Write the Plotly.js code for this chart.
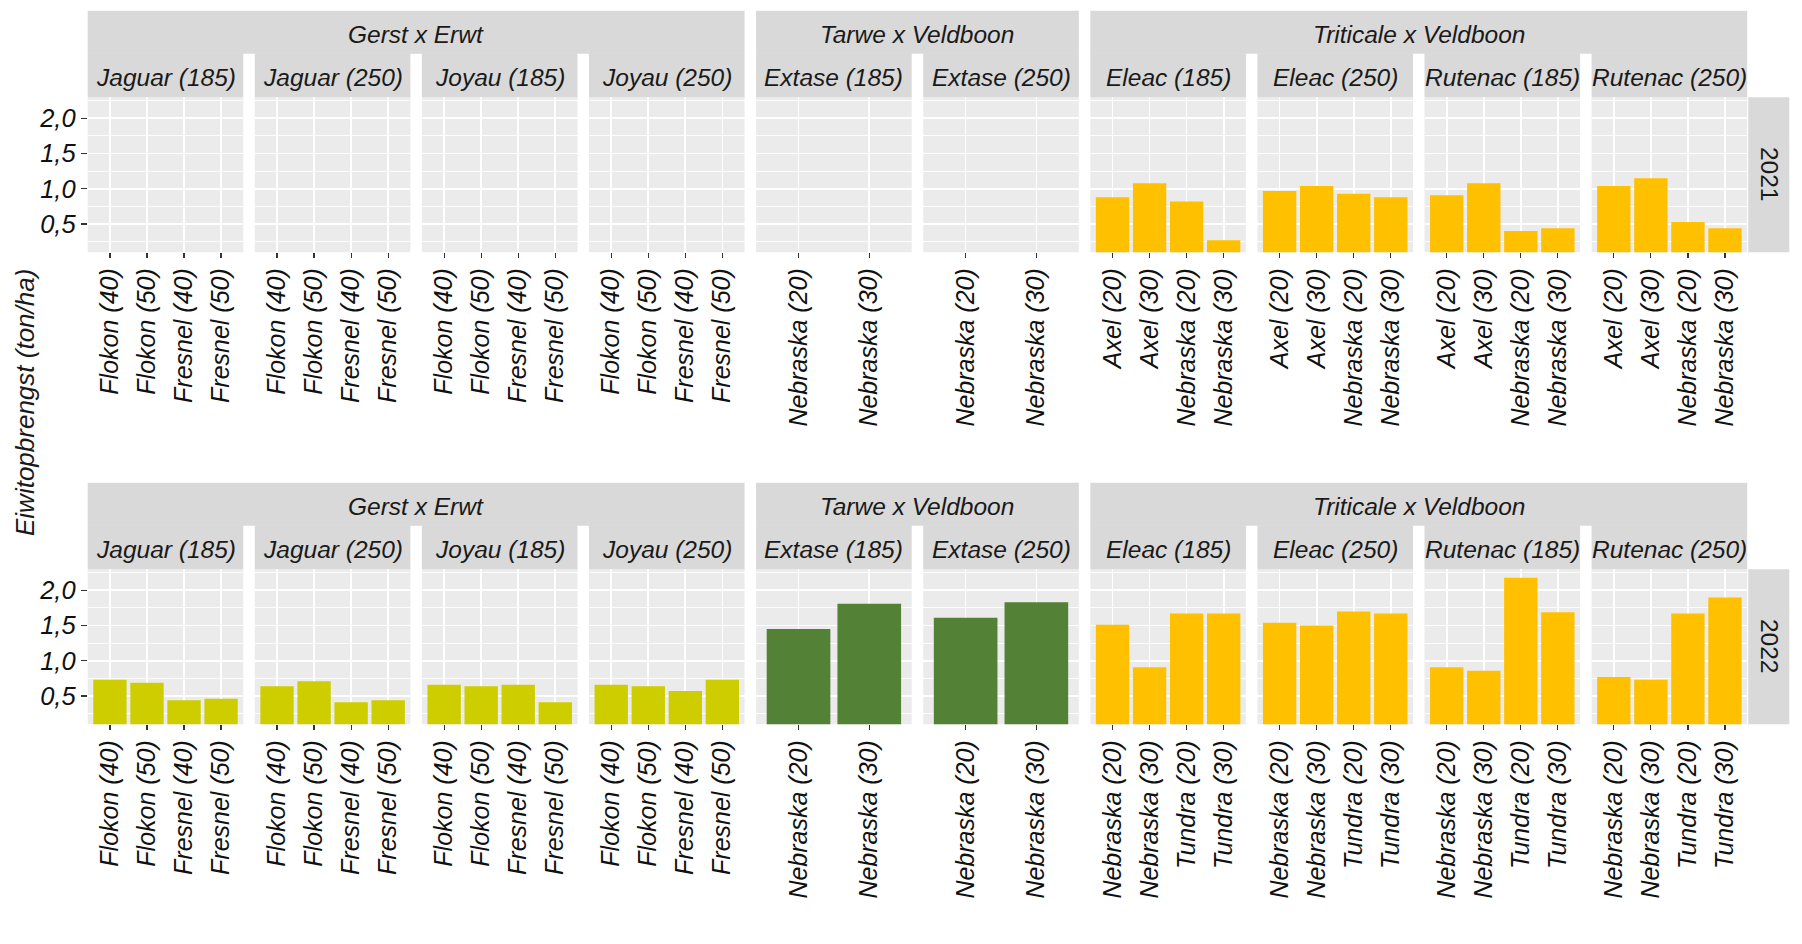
<!DOCTYPE html>
<html>
<head>
<meta charset="utf-8">
<script src="https://cdn.plot.ly/plotly-3.0.1.min.js"></script>
<style>html,body{margin:0;padding:0;background:#fff;}#chart{width:1802px;height:944px;}</style>
</head>
<body>
<div id="chart"></div>
<script>
// ---------------- data ----------------
const groups = ['Gerst x Erwt', 'Tarwe x Veldboon', 'Triticale x Veldboon'];
const groupColors = ['#CDCD00', '#538135', '#FFC000'];
const panels = ['Jaguar (185)', 'Jaguar (250)', 'Joyau (185)', 'Joyau (250)',
                'Extase (185)', 'Extase (250)',
                'Eleac (185)', 'Eleac (250)', 'Rutenac (185)', 'Rutenac (250)'];
const panelGroup = [0, 0, 0, 0, 1, 1, 2, 2, 2, 2];
const years = ['2021', '2022'];

const catsGerst = ['Flokon (40)', 'Flokon (50)', 'Fresnel (40)', 'Fresnel (50)'];
const catsTarwe = ['Nebraska (20)', 'Nebraska (30)'];
const catsTriticale2021 = ['Axel (20)', 'Axel (30)', 'Nebraska (20)', 'Nebraska (30)'];
const catsTriticale2022 = ['Nebraska (20)', 'Nebraska (30)', 'Tundra (20)', 'Tundra (30)'];

// values per panel (ton/ha); null = no measurement
const values2021 = [
  [null, null, null, null],   // Jaguar (185)
  [null, null, null, null],   // Jaguar (250)
  [null, null, null, null],   // Joyau (185)
  [null, null, null, null],   // Joyau (250)
  [null, null],               // Extase (185)
  [null, null],               // Extase (250)
  [0.88, 1.08, 0.82, 0.27],   // Eleac (185)
  [0.97, 1.04, 0.93, 0.88],   // Eleac (250)
  [0.91, 1.08, 0.40, 0.44],   // Rutenac (185)
  [1.04, 1.15, 0.53, 0.44]    // Rutenac (250)
];
const values2022 = [
  [0.73, 0.69, 0.44, 0.46],   // Jaguar (185)
  [0.64, 0.71, 0.41, 0.44],   // Jaguar (250)
  [0.66, 0.64, 0.66, 0.41],   // Joyau (185)
  [0.66, 0.64, 0.57, 0.73],   // Joyau (250)
  [1.45, 1.81],               // Extase (185)
  [1.61, 1.83],               // Extase (250)
  [1.51, 0.91, 1.67, 1.67],   // Eleac (185)
  [1.54, 1.50, 1.70, 1.67],   // Eleac (250)
  [0.91, 0.86, 2.18, 1.69],   // Rutenac (185)
  [0.77, 0.73, 1.67, 1.90]    // Rutenac (250)
];
const yTitle = 'Eiwitopbrengst (ton/ha)';

// ---------------- layout geometry (px) ----------------
const W = 1802, H = 944;
const panelLeft0 = 87.7, panelStep = 167.1, panelW = 155.6;
const rowTop = [97.2, 569.2], panelH = 155.0;
const strip1Top = [10.7, 482.7], strip2Top = [53.3, 525.3];
const yearStripX = [1748.3, 1789.3];
const FONT = 'Liberation Sans, Arial, sans-serif';

const px = x => x / W;
const py = y => 1 - y / H;

function catsFor(year, p) {
  const g = panelGroup[p];
  if (g === 0) return catsGerst;
  if (g === 1) return catsTarwe;
  return year === 0 ? catsTriticale2021 : catsTriticale2022;
}

const data = [];
const layout = {
  width: W, height: H,
  margin: {l: 0, r: 0, t: 0, b: 0},
  paper_bgcolor: '#FFFFFF',
  plot_bgcolor: '#EBEBEB',
  separators: ',.',
  showlegend: false,
  bargap: 0.1,
  font: {family: FONT, color: '#1A1A1A'},
  shapes: [],
  annotations: []
};

let idx = 0;
for (let r = 0; r < 2; r++) {
  const vals = r === 0 ? values2021 : values2022;
  for (let p = 0; p < panels.length; p++) {
    idx++;
    const xa = 'x' + (idx === 1 ? '' : idx);
    const ya = 'y' + (idx === 1 ? '' : idx);
    const cats = catsFor(r, p);
    const left = panelLeft0 + p * panelStep;
    data.push({
      type: 'bar',
      x: cats,
      y: vals[p],
      xaxis: xa, yaxis: ya,
      marker: {color: groupColors[panelGroup[p]], line: {width: 0}},
      hoverinfo: 'x+y'
    });
    layout['xaxis' + (idx === 1 ? '' : idx)] = {
      domain: [px(left), px(left + panelW)],
      anchor: ya,
      type: 'category',
      categoryorder: 'array',
      categoryarray: cats,
      range: [-0.6, cats.length - 0.4],
      showgrid: true, gridcolor: '#FFFFFF', gridwidth: 1.7,
      zeroline: false, showline: false,
      ticks: 'outside', ticklen: 5, tickwidth: 1.2, tickcolor: '#333333',
      tickangle: -90,
      tickfont: {family: FONT, size: 25, color: '#111111', style: 'italic'},
      fixedrange: true
    };
    layout['yaxis' + (idx === 1 ? '' : idx)] = {
      domain: [py(rowTop[r] + panelH), py(rowTop[r])],
      anchor: xa,
      range: [0.1, 2.3],
      tick0: 0, dtick: 0.5,
      tickformat: '.1f',
      showgrid: true, gridcolor: '#FFFFFF', gridwidth: 1.7,
      minor: {dtick: 0.25, tick0: 0, showgrid: true, gridcolor: '#FFFFFF', gridwidth: 0.9, ticks: ''},
      zeroline: false, showline: false,
      showticklabels: p === 0,
      ticks: p === 0 ? 'outside' : '',
      ticklen: 6, tickwidth: 1.2, tickcolor: '#333333',
      tickfont: {family: FONT, size: 25.5, color: '#111111', style: 'italic'},
      fixedrange: true
    };

    // second-level strip (panel label)
    layout.shapes.push({
      type: 'rect', xref: 'paper', yref: 'paper', layer: 'below',
      x0: px(left), x1: px(left + panelW),
      y0: py(rowTop[r]), y1: py(strip2Top[r]),
      fillcolor: '#D9D9D9', line: {width: 0}
    });
    layout.annotations.push({
      xref: 'paper', yref: 'paper', showarrow: false,
      x: px(left + panelW / 2), y: py((strip2Top[r] + rowTop[r]) / 2 + 2.5),
      xanchor: 'center', yanchor: 'middle',
      text: panels[p],
      font: {family: FONT, size: 24.5, color: '#1A1A1A', style: 'italic'}
    });
  }

  // first-level strips (groups)
  for (let g = 0; g < groups.length; g++) {
    const ps = panelGroup.map((v, i) => v === g ? i : -1).filter(i => i >= 0);
    const gl = panelLeft0 + ps[0] * panelStep;
    const gr = panelLeft0 + ps[ps.length - 1] * panelStep + panelW;
    layout.shapes.push({
      type: 'rect', xref: 'paper', yref: 'paper', layer: 'below',
      x0: px(gl), x1: px(gr),
      y0: py(strip2Top[r] + 0.5), y1: py(strip1Top[r]),
      fillcolor: '#D9D9D9', line: {width: 0}
    });
    layout.annotations.push({
      xref: 'paper', yref: 'paper', showarrow: false,
      x: px((gl + gr) / 2), y: py((strip1Top[r] + strip2Top[r]) / 2 + 2.5),
      xanchor: 'center', yanchor: 'middle',
      text: groups[g],
      font: {family: FONT, size: 24.5, color: '#1A1A1A', style: 'italic'}
    });
  }

  // year strip on the right
  layout.shapes.push({
    type: 'rect', xref: 'paper', yref: 'paper', layer: 'below',
    x0: px(yearStripX[0]), x1: px(yearStripX[1]),
    y0: py(rowTop[r] + panelH), y1: py(rowTop[r]),
    fillcolor: '#D9D9D9', line: {width: 0}
  });
  layout.annotations.push({
    xref: 'paper', yref: 'paper', showarrow: false,
    x: px((yearStripX[0] + yearStripX[1]) / 2), y: py(rowTop[r] + panelH / 2),
    xanchor: 'center', yanchor: 'middle',
    textangle: 90,
    text: years[r],
    font: {family: FONT, size: 24.5, color: '#1A1A1A'}
  });
}

// y-axis title
layout.annotations.push({
  xref: 'paper', yref: 'paper', showarrow: false,
  x: px(25), y: py(403),
  xanchor: 'center', yanchor: 'middle',
  textangle: -90,
  text: yTitle,
  font: {family: FONT, size: 26, color: '#1A1A1A', style: 'italic'}
});

Plotly.newPlot('chart', data, layout, {displayModeBar: false, staticPlot: true});
</script>
</body>
</html>
